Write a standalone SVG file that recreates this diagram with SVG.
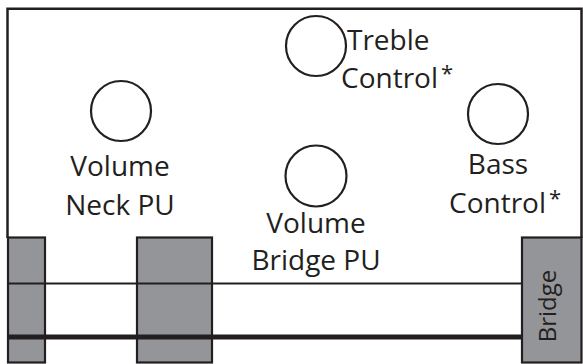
<svg xmlns="http://www.w3.org/2000/svg" width="583" height="364" viewBox="0 0 583 364">
<style>
.lbl{font-family:"Open Sans","Liberation Sans",sans-serif;font-size:28px;fill:#231f20;text-anchor:middle}
.knob{fill:none;stroke:#231f20;stroke-width:2.2}
.blk{fill:#939598;stroke:#231f20;stroke-width:2.2}
.edge{fill:none;stroke:#231f20;stroke-width:2.5}
</style>
<rect width="583" height="364" fill="#ffffff"/>
<g id="body">
<path class="edge" d="M7.5,238 V8.8 H581.5 V238"/>
</g>
<g id="neck-block"><rect class="blk" x="8" y="237.5" width="37" height="125"/></g>
<g id="mid-block"><rect class="blk" x="137" y="237.5" width="75" height="125"/></g>
<g id="bridge"><rect class="blk" x="522" y="237.5" width="59.5" height="125"/>
<text class="lbl" style="font-size:24px" transform="translate(556,306) rotate(-90)">Bridge</text></g>
<g id="connectors">
<line x1="8" y1="283.5" x2="522" y2="283.5" stroke="#231f20" stroke-width="2.2"/>
<line x1="8" y1="337" x2="522" y2="337" stroke="#231f20" stroke-width="5"/>
</g>
<g id="volume-neck"><circle class="knob" cx="121" cy="111" r="30"/>
<text class="lbl" x="120" y="176">Volume</text><text class="lbl" x="120" y="215">Neck PU</text></g>
<g id="treble"><circle class="knob" cx="316" cy="46" r="30"/>
<text class="lbl" x="347" y="50" style="text-anchor:start">Treble</text>
<text class="lbl" x="341" y="88" style="text-anchor:start">Control<tspan dx="3" dy="-7" style="font-size:22px">*</tspan></text></g>
<g id="volume-bridge"><circle class="knob" cx="316" cy="176" r="30.5"/>
<text class="lbl" x="316" y="233">Volume</text><text class="lbl" x="316" y="270">Bridge PU</text></g>
<g id="bass"><circle class="knob" cx="498" cy="114" r="30"/>
<text class="lbl" x="498" y="174">Bass</text>
<text class="lbl" x="449" y="213" style="text-anchor:start">Control<tspan dx="3" dy="-7" style="font-size:22px">*</tspan></text></g>
</svg>
